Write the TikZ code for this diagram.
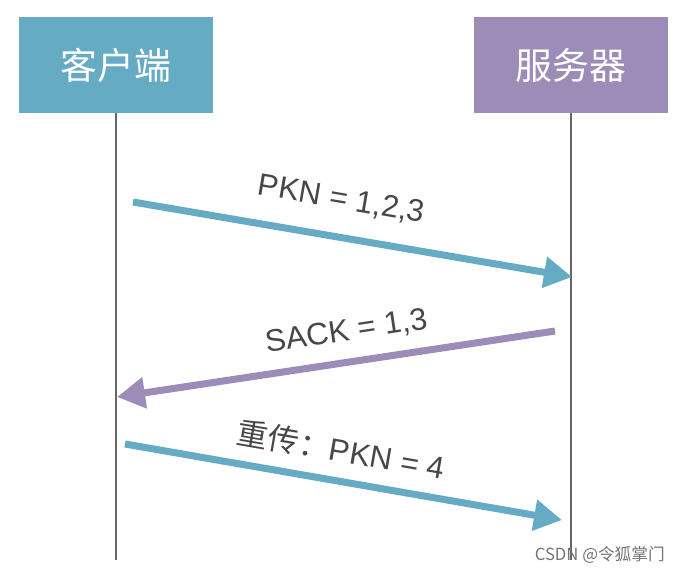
\documentclass[tikz,border=0pt]{standalone}
\usepackage{fontspec}
\setmainfont{Liberation Sans}
\newfontfamily\cjk{Noto Sans CJK SC}
\usetikzlibrary{arrows.meta,positioning}
\definecolor{cliblue}{HTML}{66ABC4}
\definecolor{srvpurple}{HTML}{9D8BB8}
\definecolor{txtgray}{HTML}{474747}

\begin{document}
\begin{tikzpicture}[x=0.02cm, y=-0.02cm,
  head/.style={minimum width=3.9cm, minimum height=1.92cm, inner sep=0pt,
               text=white, font=\cjk\fontsize{21}{21}\selectfont},
  life/.style={draw=black!60, line width=0.9pt},
  msg/.style={line width=4pt, -{Triangle[length=0.56cm, width=0.6cm]}},
  lbl/.style={text=txtgray, font=\fontsize{17.7}{17.7}\selectfont, sloped}
]
\useasboundingbox (0,0) rectangle (685,575);

\node[head, fill=cliblue]   (client) at (116,65) {客户端};
\node[head, fill=srvpurple] (server) at (571,65) {服务器};

\coordinate (cend) at (116,560);
\coordinate (send) at (571,560);
\draw[life] (client.south) -- (cend);
\draw[life] (server.south) -- (send);

\coordinate (c1) at (133,202);
\coordinate (s1) at (572,277);
\coordinate (s2) at (555,331);
\coordinate (c2) at (117,397);
\coordinate (c3) at (125,444);
\coordinate (s3) at (562,520);

\draw[msg, cliblue] (c1) -- node[lbl, pos=0.46, above=0.3cm] {PKN = 1,2,3} (s1);
\draw[msg, srvpurple] (s2) -- node[lbl, pos=0.466, above=0.16cm] {SACK = 1,3} (c2);
\draw[msg, cliblue] (c3) -- node[lbl, pos=0.483, above=0.15cm] {{\cjk 重传：}PKN = 4} (s3);

\node[text=black!55, font=\cjk\fontsize{9.5}{9.5}\selectfont, anchor=east]
  (mark) at (671,555) {CSDN @令狐掌门};
\end{tikzpicture}
\end{document}
